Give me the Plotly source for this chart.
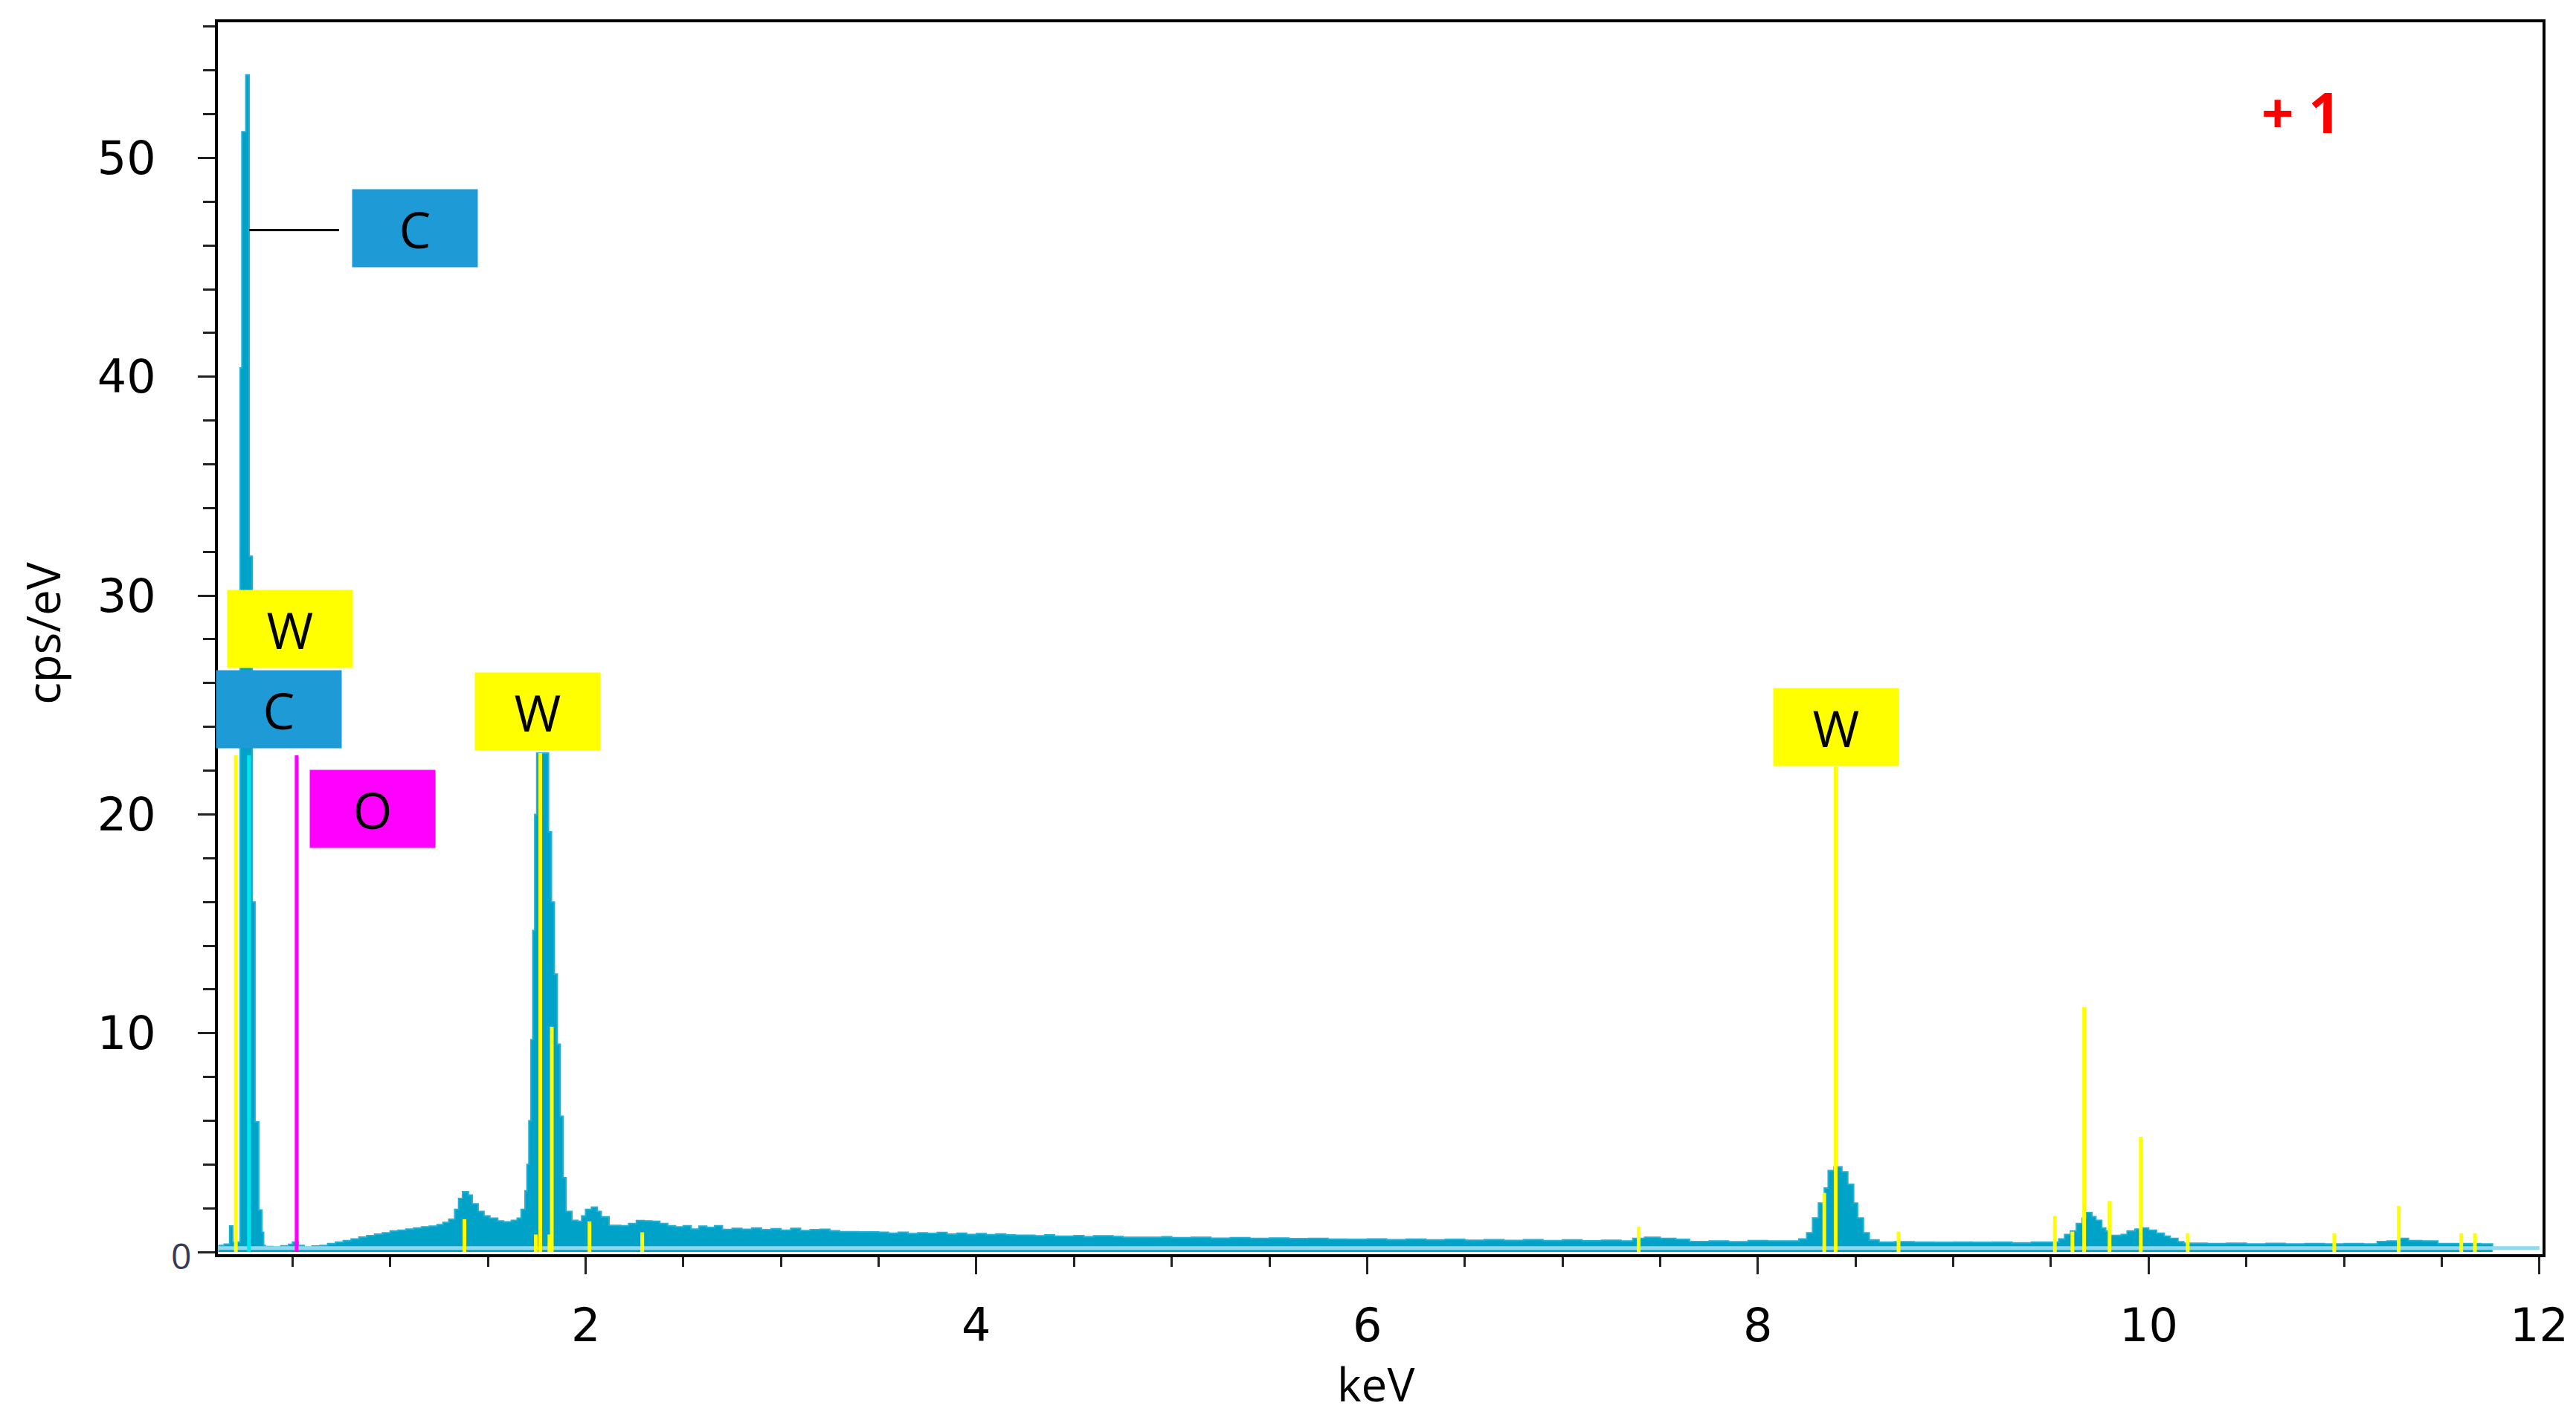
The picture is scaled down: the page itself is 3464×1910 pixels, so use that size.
import plotly.graph_objects as go

# ---------------- data ----------------
spec_kev = [0.120, 0.150, 0.178, 0.194, 0.232, 0.241, 0.261, 0.278, 0.294, 0.308, 0.327, 0.343, 0.352,
            0.36, 0.40, 0.44, 0.48, 0.50, 0.53, 0.56, 0.60, 0.64, 0.68, 0.72, 0.76, 0.80, 0.84, 0.88,
            0.92, 0.96, 1.00, 1.04, 1.08, 1.12, 1.16, 1.20, 1.24, 1.27, 1.30, 1.33, 1.35, 1.37, 1.40,
            1.42, 1.45, 1.48, 1.51, 1.55, 1.58, 1.62, 1.65, 1.67, 1.69, 1.70, 1.71, 1.72, 1.73, 1.74,
            1.75, 1.81, 1.825, 1.84, 1.855, 1.87, 1.885, 1.90, 1.93, 1.96, 1.98, 2.00, 2.03, 2.06, 2.08,
            2.12, 2.18, 2.22, 2.26, 2.30, 2.34, 2.38, 2.42, 2.46, 2.50, 2.54, 2.58, 2.62, 2.66, 2.70,
            2.75, 2.80, 2.85, 2.90, 2.95, 3.00, 3.05, 3.10, 3.15, 3.20, 3.25, 3.30, 3.40, 3.50, 3.55,
            3.60, 3.65, 3.70, 3.75, 3.80, 3.85, 3.90, 3.95, 4.00, 4.05, 4.10, 4.15, 4.20, 4.30, 4.35,
            4.40, 4.50, 4.55, 4.60, 4.70, 4.75, 4.85, 4.95, 5.00, 5.10, 5.20, 5.30, 5.40, 5.50, 5.60,
            5.70, 5.80, 5.90, 6.00, 6.10, 6.20, 6.30, 6.40, 6.50, 6.60, 6.70, 6.80, 6.90, 7.00, 7.10,
            7.20, 7.30, 7.36, 7.42, 7.50, 7.58, 7.65, 7.75, 7.85, 7.95, 8.05, 8.15, 8.21, 8.25, 8.28,
            8.31, 8.34, 8.36, 8.39, 8.43, 8.46, 8.49, 8.51, 8.54, 8.57, 8.62, 8.70, 8.80, 8.90, 9.00,
            9.10, 9.20, 9.30, 9.40, 9.50, 9.54, 9.57, 9.60, 9.63, 9.66, 9.68, 9.71, 9.73, 9.76, 9.78,
            9.80, 9.86, 9.89, 9.93, 9.96, 10.00, 10.04, 10.08, 10.11, 10.15, 10.18, 10.30, 10.40, 10.50,
            10.60, 10.70, 10.80, 10.90, 11.00, 11.10, 11.17, 11.22, 11.28, 11.33, 11.40, 11.48, 11.60,
            11.70, 11.76]
spec_cps = [0.30, 0.36, 1.19, 0.45, 40.4, 51.2, 53.8, 31.8, 16.0, 5.95, 1.92, 0.90, 0.30,
            0.25, 0.22, 0.28, 0.35, 0.45, 0.30, 0.22, 0.27, 0.30, 0.38, 0.45, 0.52, 0.60, 0.68, 0.75,
            0.82, 0.88, 0.96, 1.00, 1.05, 1.10, 1.15, 1.18, 1.25, 1.35, 1.50, 1.95, 2.45, 2.75, 2.60,
            2.20, 1.85, 1.65, 1.55, 1.42, 1.38, 1.45, 1.55, 1.95, 2.8, 4.0, 6.0, 9.7, 14.7, 20.0,
            22.8, 19.2, 16.0, 12.7, 9.5, 6.2, 3.4, 1.85, 1.45, 1.40, 1.65, 1.95, 2.05, 1.85, 1.61,
            1.22, 1.20, 1.30, 1.44, 1.42, 1.40, 1.30, 1.20, 1.15, 1.20, 1.05, 1.18, 1.12, 1.20, 1.03,
            1.08, 1.04, 1.10, 1.02, 1.06, 1.00, 1.08, 0.98, 1.02, 1.04, 0.97, 0.93, 0.92, 0.90, 0.86,
            0.90, 0.84, 0.88, 0.85, 0.89, 0.82, 0.86, 0.80, 0.84, 0.79, 0.83, 0.78, 0.77, 0.74, 0.78,
            0.72, 0.75, 0.70, 0.74, 0.71, 0.67, 0.67, 0.70, 0.66, 0.67, 0.63, 0.66, 0.62, 0.64, 0.61,
            0.62, 0.59, 0.58, 0.60, 0.56, 0.59, 0.55, 0.58, 0.54, 0.56, 0.53, 0.56, 0.52, 0.55, 0.51,
            0.54, 0.50, 0.62, 0.67, 0.62, 0.58, 0.48, 0.50, 0.47, 0.52, 0.50, 0.50, 0.60, 0.88, 1.56,
            2.24, 2.92, 3.72, 3.89, 3.66, 3.09, 2.24, 1.56, 0.88, 0.55, 0.45, 0.47, 0.45, 0.44, 0.45,
            0.44, 0.45, 0.42, 0.45, 0.45, 0.60, 0.80, 0.96, 1.30, 1.55, 1.80, 1.62, 1.45, 1.10, 0.96,
            0.76, 0.80, 0.96, 1.05, 1.10, 1.00, 0.86, 0.72, 0.62, 0.47, 0.40, 0.38, 0.40, 0.37,
            0.39, 0.37, 0.38, 0.37, 0.38, 0.37, 0.48, 0.50, 0.62, 0.52, 0.50, 0.38, 0.38,
            0.37, 0.20]

base_kev = [0.12, 12.0]
base_cps = [0.18, 0.18]

w_line_kev = [0.21, 1.38, 1.745, 1.768, 1.815, 1.827, 2.02, 2.29, 7.39, 8.34, 8.398, 8.72,
              9.52, 9.61, 9.67, 9.80, 9.96, 10.20, 10.95, 11.28, 11.60, 11.67]
w_line_cps = [22.7, 1.5, 0.8, 22.8, 0.8, 10.3, 1.4, 0.9, 1.15, 2.7, 22.2, 0.93,
              1.65, 0.93, 11.2, 2.33, 5.27, 0.86, 0.86, 2.1, 0.86, 0.86]
c_line_kev = [0.277]
c_line_cps = [22.7]
o_line_kev = [0.521]
o_line_cps = [22.7]

label_text = ["C", "W", "C", "O", "W", "W"]
label_kev = [1.126, 0.487, 0.430, 0.909, 1.753, 8.400]
label_cps = [46.8, 28.47, 24.8, 20.25, 24.7, 24.0]
label_color = ["#1E9AD6", "#FFFF00", "#1E9AD6", "#FF00FF", "#FFFF00", "#FFFF00"]

c_leader_kev = [0.278, 0.738]
c_leader_cps = [46.7, 46.7]

y_tick_vals = [0, 10, 20, 30, 40, 50]
y_tick_text = ["", "10", "20", "30", "40", "50"]
x_tick_vals = [2, 4, 6, 8, 10, 12]
x_tick_text = ["2", "4", "6", "8", "10", "12"]

x_title = "keV"
y_title = "cps/eV"


def stems(xs, ys):
    sx, sy = [], []
    for x, y in zip(xs, ys):
        sx += [x, x, None]
        sy += [0, y, None]
    return sx, sy


fig = go.Figure()

fig.add_trace(go.Scatter(x=spec_kev, y=spec_cps, mode="lines", line_shape="hv",
                         fill="tozeroy", fillcolor="#00A2C8",
                         line=dict(color="#22B0D3", width=2), showlegend=False))
fig.add_trace(go.Scatter(x=base_kev, y=base_cps, mode="lines",
                         line=dict(color="#8ED9EE", width=5), showlegend=False))

for xs, ys, col in [(w_line_kev, w_line_cps, "#FFFF00"),
                    (c_line_kev, c_line_cps, "#00E6EE"),
                    (o_line_kev, o_line_cps, "#FF00FF")]:
    sx, sy = stems(xs, ys)
    fig.add_trace(go.Scatter(x=sx, y=sy, mode="lines", line=dict(color=col, width=5),
                             showlegend=False))

fig.add_trace(go.Scatter(x=c_leader_kev, y=c_leader_cps, mode="lines",
                         line=dict(color="black", width=3), showlegend=False))

for t, x, y, c in zip(label_text, label_kev, label_cps, label_color):
    fig.add_annotation(x=x, y=y, xref="x", yref="y", text=t, showarrow=False,
                       bgcolor=c, width=168, height=104, borderpad=0,
                       align="center", valign="middle",
                       font=dict(family="Open Sans", size=68, color="black"))

fig.add_annotation(x=0.914, y=0.960, xref="paper", yref="paper", text="<b>+ 1</b>",
                   showarrow=False, font=dict(family="Open Sans", size=76, color="#FF0000"))

fig.add_annotation(x=0, y=0, xref="paper", yref="y", text="0", showarrow=False,
                   xanchor="right", xshift=-34, yshift=-4,
                   font=dict(family="Open Sans", size=48, color="#3A3A55"))

# x tick labels placed below the axis
for v, t in zip(x_tick_vals, x_tick_text):
    fig.add_annotation(x=v, y=-0.0575, xref="x", yref="paper", text=t, showarrow=False,
                       xanchor="center", yanchor="middle",
                       font=dict(family="DejaVu Sans", size=62, color="black"))

# axis titles
fig.add_annotation(x=0.498, y=-0.1053, xref="paper", yref="paper", text=x_title,
                   showarrow=False, xanchor="center", yanchor="middle",
                   font=dict(family="Open Sans", size=62, color="black"))
fig.add_annotation(x=-0.0755, y=0.504, xref="paper", yref="paper", text=y_title,
                   showarrow=False, textangle=-90, xanchor="center", yanchor="middle",
                   font=dict(family="Open Sans", size=62, color="black"))

axis_common = dict(showline=True, linecolor="black", linewidth=4, mirror=True,
                   ticks="outside", tickcolor="#222222", tickwidth=3, ticklen=23,
                   showgrid=False, zeroline=False, automargin=False)

fig.update_xaxes(range=[0.118, 12.016], tickvals=x_tick_vals, showticklabels=False,
                 minor=dict(dtick=0.5, tick0=0, ticks="outside", ticklen=13, tickwidth=3,
                            tickcolor="#222222"),
                 **axis_common)
fig.update_yaxes(range=[-0.1, 56.2], tickvals=y_tick_vals, ticktext=y_tick_text,
                 minor=dict(dtick=2, tick0=0, ticks="outside", ticklen=16, tickwidth=3,
                            tickcolor="#222222"),
                 ticklabelstandoff=44,
                 tickfont=dict(family="DejaVu Sans", size=62, color="black"),
                 **axis_common)

fig.update_layout(width=3464, height=1910, paper_bgcolor="white", plot_bgcolor="white",
                  margin=dict(l=285, r=53, t=22, b=231), showlegend=False)

fig.write_html("out.html")
